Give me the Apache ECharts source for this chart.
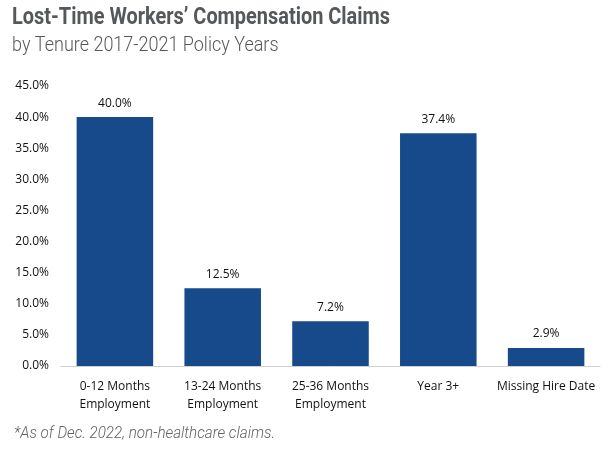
<!DOCTYPE html>
<html>
<head>
<meta charset="utf-8">
<script src="https://cdn.jsdelivr.net/npm/echarts@6/dist/echarts.min.js"></script>
<style>
html, body { margin: 0; padding: 0; background: #fff; }
#chart { width: 611px; height: 452px; }
</style>
</head>
<body>
<div id="chart"></div>
<script>
// 类别和数值
var categories = ['0-12 Months\nEmployment', '13-24 Months\nEmployment', '25-36 Months\nEmployment', 'Year 3+', 'Missing Hire Date'];
var shares = [40.0, 12.5, 7.2, 37.4, 2.9];
var yTicks = [0, 5, 10, 15, 20, 25, 30, 35, 40, 45];

var chart = echarts.init(document.getElementById('chart'));

// 标题字体是窄体, 用 scaleX 压窄
chart.setOption({
    animation: false,
    backgroundColor: '#fff',
    graphic: [{
        type: 'text',
        left: 12,
        top: 6,
        scaleX: 0.83,
        style: {
            text: 'Lost-Time Workers\u2019 Compensation Claims',
            font: 'bold 24px Roboto, sans-serif',
            fill: '#55585a'
        }
    }, {
        type: 'text',
        left: 12,
        top: 36,
        scaleX: 0.9,
        style: {
            text: 'by Tenure 2017-2021 Policy Years',
            font: '300 20px Roboto, sans-serif',
            fill: '#55585a'
        }
    }, {
        type: 'text',
        left: 14,
        top: 426,
        scaleX: 0.95,
        style: {
            text: '*As of Dec. 2022, non-healthcare claims.',
            font: 'italic 300 16px Roboto, sans-serif',
            fill: '#606264'
        }
    }],
    grid: {
        left: 61,
        right: 11,
        top: 86,
        bottom: 86
    },
    xAxis: {
        type: 'category',
        data: categories,
        axisLine: { lineStyle: { color: '#d0d0d0', width: 1 } },
        axisTick: { show: false },
        axisLabel: {
            interval: 0,
            margin: 12,
            lineHeight: 18,
            fontFamily: '"Open Sans", sans-serif',
            fontSize: 12,
            color: '#111'
        }
    },
    yAxis: {
        type: 'value',
        min: yTicks[0],
        max: yTicks[yTicks.length - 1],
        interval: 5,
        splitLine: { show: false },
        axisLine: { show: false },
        axisTick: { show: false },
        axisLabel: {
            margin: 12,
            fontFamily: '"Open Sans", sans-serif',
            fontSize: 12,
            color: '#111',
            formatter: function(v) { return v.toFixed(1) + '%'; }
        }
    },
    series: [{
        type: 'bar',
        data: shares,
        barWidth: '71%',
        itemStyle: { color: '#174a8b' },
        label: {
            show: true,
            position: 'top',
            distance: 8,
            fontFamily: '"Open Sans", sans-serif',
            fontSize: 12,
            color: '#111',
            formatter: function(p) { return p.value.toFixed(1) + '%'; }
        }
    }]
});
</script>
</body>
</html>
